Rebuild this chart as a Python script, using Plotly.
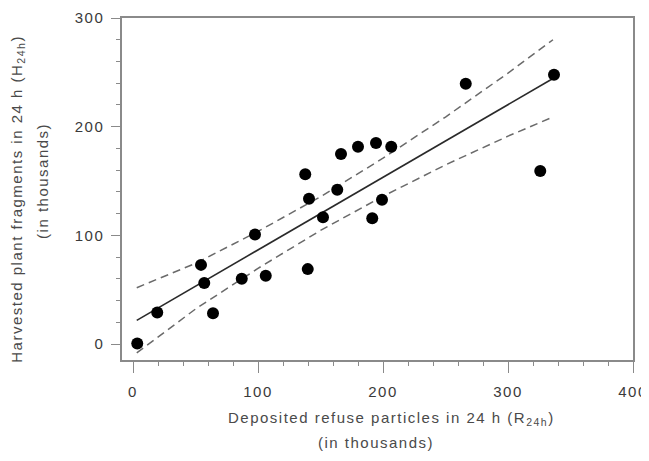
import plotly.graph_objects as go

# measured points (thousands)
refuse_x = [3.4, 19.4, 54.4, 57.0, 64.0, 87.0, 97.6, 106.2, 137.8, 139.8, 140.8,
            152.0, 163.4, 166.4, 180.0, 191.4, 194.4, 199.2, 206.6, 266.2, 325.8, 336.8]
harvest_y = [0.6, 29.2, 72.9, 56.3, 28.5, 60.2, 100.9, 62.9, 156.2, 69.0, 133.8,
             116.7, 142.0, 174.8, 181.5, 115.8, 185.1, 132.9, 181.5, 239.5, 159.3, 247.7]

# regression line and confidence band
fit_x = [3, 337]
fit_y = [21.9, 245.0]
band_x = [3, 50, 100, 150, 200, 250, 300, 336]
band_upper = [51.9, 74.3, 103.7, 135.6, 171.0, 208.9, 249.3, 280.0]
band_lower = [-8.1, 32.3, 69.7, 104.6, 136.0, 164.9, 191.3, 209.0]

tick_vals = [0, 100, 200, 300, 400]
tick_text = ["0", "100", "200", "300", "400"]

FONT = "Liberation Sans, Arial, sans-serif"
SP = '<span style="letter-spacing:1.5px">{}</span>'

fig = go.Figure()
fig.add_trace(go.Scatter(x=band_x, y=band_upper, mode="lines",
                         line=dict(color="#6a6a6a", width=1.5, dash="8px,5px")))
fig.add_trace(go.Scatter(x=band_x, y=band_lower, mode="lines",
                         line=dict(color="#6a6a6a", width=1.5, dash="8px,5px")))
fig.add_trace(go.Scatter(x=fit_x, y=fit_y, mode="lines",
                         line=dict(color="#2a2a2a", width=1.6)))
fig.add_trace(go.Scatter(x=refuse_x, y=harvest_y, mode="markers",
                         marker=dict(color="black", size=12)))

axis_common = dict(showline=True, linecolor="#8a8a8a", linewidth=1.5, mirror=True,
                   showgrid=False, zeroline=False, automargin=False,
                   ticklabeloverflow="allow",
                   ticks="outside", tickcolor="#8a8a8a", tickwidth=1.2,
                   tickfont=dict(family=FONT, size=15, color="#3a3a3a"),
                   minor=dict(dtick=20, ticks="outside", ticklen=4, tickcolor="#8a8a8a"))

fig.update_xaxes(range=[-8.8, 400], tickvals=tick_vals,
                 ticktext=[SP.format(t) for t in tick_text], ticklen=11,
                 ticklabelstandoff=6, **axis_common)
fig.update_yaxes(range=[-14.6, 300], tickvals=tick_vals[:4],
                 ticktext=[SP.format(t) for t in tick_text[:4]], ticklen=9,
                 ticklabelstandoff=4, **axis_common)

title_font = dict(family=FONT, size=15, color="#4a4a4a")
annots = [
    dict(x=0.528, y=-0.17, text=SP.format("Deposited refuse particles in 24 h (R<sub>24h</sub>)")),
    dict(x=0.497, y=-0.24, text=SP.format("(in thousands)")),
    dict(x=-0.2045, y=0.47, text=SP.format("Harvested plant fragments in 24 h (H<sub>24h</sub>)"), textangle=-90),
    dict(x=-0.1556, y=0.525, text=SP.format("(in thousands)"), textangle=-90),
]
for a in annots:
    fig.add_annotation(xref="paper", yref="paper", showarrow=False,
                       xanchor="center", yanchor="middle", font=title_font, **a)

# page body adds an 8px offset, so margins are shifted to compensate
fig.update_layout(width=649, height=461, showlegend=False,
                  margin=dict(l=114, r=24, t=10, b=109),
                  paper_bgcolor="white", plot_bgcolor="white")

fig.write_html("out.html")
